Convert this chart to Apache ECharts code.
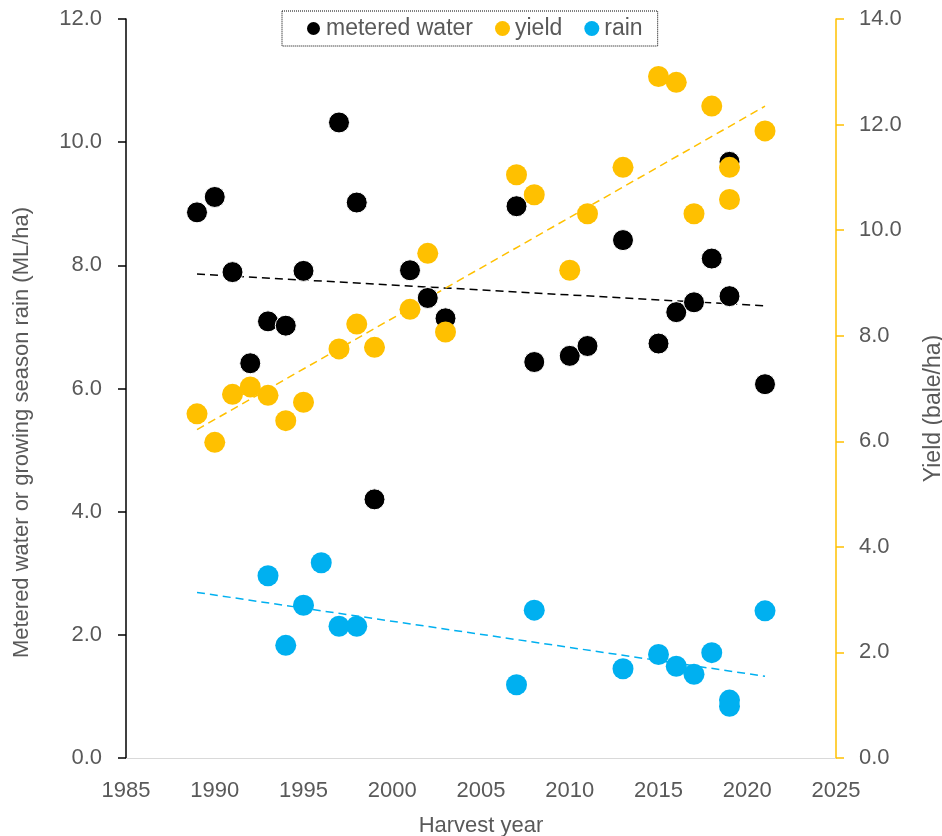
<!DOCTYPE html>
<html>
<head>
<meta charset="utf-8">
<script src="https://cdn.jsdelivr.net/npm/echarts@6/dist/echarts.min.js"></script>
<style>
html,body{margin:0;padding:0;background:#fff;}
#chart{width:942px;height:836px;}
</style>
</head>
<body>
<div id="chart"></div>
<script>
// ---- data ----
const waterYears = [1989,1990,1991,1992,1993,1994,1995,1997,1998,1999,2001,2002,2003,2007,2008,2010,2011,2013,2015,2016,2017,2018,2019,2019,2021];
const waterValues = [8.86,9.11,7.89,6.41,7.09,7.02,7.91,10.32,9.02,4.20,7.92,7.47,7.14,8.96,6.43,6.53,6.69,8.41,6.73,7.24,7.40,8.11,9.68,7.50,6.07];

const yieldYears = [1989,1990,1991,1992,1993,1994,1995,1997,1998,1999,2001,2002,2003,2007,2008,2010,2011,2013,2015,2016,2017,2018,2019,2019,2021];
const yieldValues = [6.52,5.98,6.89,7.03,6.87,6.39,6.74,7.75,8.22,7.78,8.50,9.56,8.07,11.05,10.67,9.24,10.31,11.19,12.91,12.80,10.31,12.35,11.19,10.58,11.88];

const rainYears = [1993,1994,1995,1996,1997,1998,2007,2008,2013,2015,2016,2017,2018,2019,2019,2021];
const rainValues = [2.96,1.83,2.48,3.17,2.14,2.14,1.19,2.40,1.45,1.68,1.49,1.36,1.71,0.94,0.84,2.39];

const trendRange = [1989, 2021];
const seriesNames = ['metered water','yield','rain'];
const leftTicks = {min:0, max:12, interval:2};
const rightTicks = {min:0, max:14, interval:2};
const xTicks = {min:1985, max:2025, interval:5};

// ---- helpers ----
function pairs(xs, ys){ return xs.map((x,i)=>[x, ys[i]]); }
function trend(xs, ys){
  const n = xs.length;
  const mx = xs.reduce((a,b)=>a+b,0)/n;
  const my = ys.reduce((a,b)=>a+b,0)/n;
  let sxy=0, sxx=0;
  for(let i=0;i<n;i++){ sxy += (xs[i]-mx)*(ys[i]-my); sxx += (xs[i]-mx)*(xs[i]-mx); }
  const b = sxy/sxx, a = my - b*mx;
  return trendRange.map(x=>[x, a+b*x]);
}

const FONT = 'Liberation Sans';
const GREY = '#595959';
const BLACK = '#000000', GOLD = '#FFC000', BLUE = '#00B0F0';

const chart = echarts.init(document.getElementById('chart'), null, {renderer:'canvas'});
const fmt = v => v.toFixed(1);

chart.setOption({
  animation:false,
  textStyle:{fontFamily:FONT},
  grid:{left:126, right:106, top:19, bottom:78, containLabel:false, outerBoundsMode:'none'},
  legend:{
    data:seriesNames,
    left:282, top:11,
    padding:[6,15,6,23],
    itemGap:22,
    itemWidth:15, itemHeight:15,
    icon:'circle',
    borderColor:'#000', borderWidth:1, borderType:'dotted',
    textStyle:{fontSize:23, color:GREY, fontFamily:FONT}
  },
  xAxis:{
    type:'value', min:xTicks.min, max:xTicks.max, interval:xTicks.interval,
    name:'Harvest year', nameLocation:'middle', nameGap:57,
    nameTextStyle:{fontSize:22, color:GREY, fontFamily:FONT},
    axisLine:{show:true, onZero:false, lineStyle:{color:'#d9d9d9', width:1}},
    axisTick:{show:false},
    axisLabel:{fontSize:22, color:GREY, margin:22, fontFamily:FONT, formatter:v => String(v)},
    splitLine:{show:false}
  },
  yAxis:[{
    type:'value', position:'left', min:leftTicks.min, max:leftTicks.max, interval:leftTicks.interval,
    name:'Metered water or growing season rain (ML/ha)', nameLocation:'middle', nameGap:93, nameRotate:90,
    nameTextStyle:{fontSize:22, color:GREY, fontFamily:FONT, padding:[0,88,0,0]},
    axisLine:{show:true, lineStyle:{color:'#000', width:1.5}},
    axisTick:{show:true, length:8, lineStyle:{color:'#000', width:1.5}},
    axisLabel:{fontSize:22, color:GREY, margin:24, formatter:fmt, fontFamily:FONT},
    splitLine:{show:false}
  },{
    type:'value', position:'right', min:rightTicks.min, max:rightTicks.max, interval:rightTicks.interval,
    name:'Yield (bale/ha)', nameLocation:'middle', nameGap:86, nameRotate:90,
    nameTextStyle:{fontSize:23, color:GREY, fontFamily:FONT, padding:[0,40,0,0]},
    axisLine:{show:true, lineStyle:{color:GOLD, width:1.5}},
    axisTick:{show:true, length:8, lineStyle:{color:GOLD, width:1.5}},
    axisLabel:{fontSize:22, color:GREY, margin:23, formatter:fmt, fontFamily:FONT},
    splitLine:{show:false}
  }],
  series:[
    {name:'water trend', type:'line', yAxisIndex:0, data:trend(waterYears, waterValues), showSymbol:false, symbol:'none',
     lineStyle:{color:'#000', width:1.5, type:[8,5]}, z:1, silent:true},
    {name:'yield trend', type:'line', yAxisIndex:1, data:trend(yieldYears, yieldValues), showSymbol:false, symbol:'none',
     lineStyle:{color:GOLD, width:1.5, type:[8,5]}, z:1, silent:true},
    {name:'rain trend', type:'line', yAxisIndex:0, data:trend(rainYears, rainValues), showSymbol:false, symbol:'none',
     lineStyle:{color:BLUE, width:1.5, type:[8,5]}, z:1, silent:true},
    {name:seriesNames[0], type:'scatter', yAxisIndex:0, data:pairs(waterYears, waterValues), symbolSize:21,
     itemStyle:{color:BLACK, borderColor:'#fff', borderWidth:1, opacity:1}, z:2},
    {name:seriesNames[1], type:'scatter', yAxisIndex:1, data:pairs(yieldYears, yieldValues), symbolSize:21,
     itemStyle:{color:GOLD, opacity:1}, z:3},
    {name:seriesNames[2], type:'scatter', yAxisIndex:0, data:pairs(rainYears, rainValues), symbolSize:21,
     itemStyle:{color:BLUE, opacity:1}, z:4}
  ]
});
</script>
</body>
</html>
